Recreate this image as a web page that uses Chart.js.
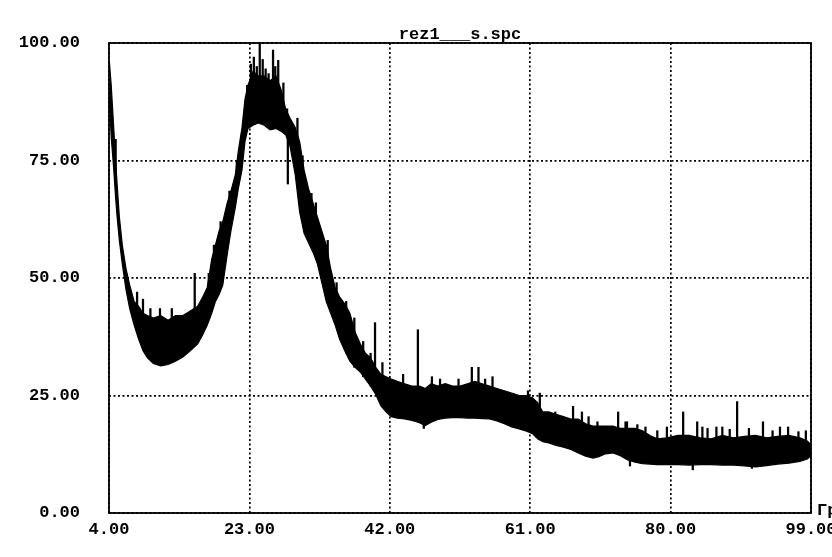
<!DOCTYPE html>
<html>
<head>
<meta charset="utf-8">
<script src="https://cdn.jsdelivr.net/npm/chart.js@4/dist/chart.umd.min.js"></script>
<style>
  html, body { margin: 0; padding: 0; background: #fff; }
  canvas { display: block; }
</style>
</head>
<body>
<canvas id="xrd" width="832" height="557"></canvas>
<script>
const angles = [4.05, 4.3, 4.6, 4.9, 5.1, 5.4, 5.8, 6.3, 6.8, 7.4, 8.0, 8.6, 9.2, 10.0, 11.0, 12.0, 13.0, 14.0, 15.0, 16.0,
  16.7, 17.3, 17.9, 18.4, 18.9, 19.4, 20.0, 20.5, 21.1, 21.5, 22.0, 22.4, 22.8, 23.5, 24.2, 25.0, 25.8, 26.6, 27.3, 27.9,
  28.5, 29.2, 29.8, 30.4, 31.0, 31.6, 32.2, 32.8, 33.4, 34.0, 34.6, 35.2, 35.9, 36.6, 37.3, 38.0, 38.7, 39.4, 40.1, 40.8,
  41.5, 42.2, 43.0, 44.0, 45.0, 46.0, 46.8, 47.6, 48.5, 49.5, 50.5, 51.5, 52.5, 53.5, 54.5, 55.5, 56.5, 57.5, 58.5, 59.5,
  60.5, 61.3, 62.0, 62.7, 63.5, 64.5, 65.5, 66.5, 67.5, 68.5, 69.5, 70.3, 71.2, 72.2, 73.2, 74.2, 75.2, 76.2, 77.2, 78.2,
  79.5, 81.0, 82.5, 84.0, 85.5, 87.0, 88.5, 90.0, 91.5, 93.0, 94.5, 96.0, 97.5, 98.5, 99.0];

// upper edge of the noisy band
const upperEdge = [96, 91, 83, 75, 70, 63, 57, 52, 48.5, 45, 44, 42.5, 42, 41.5, 42, 41, 42, 42, 43, 44,
  46, 48, 54, 57, 60, 62, 66, 68.5, 72, 77, 82, 88, 91, 94, 93, 93, 92, 93, 90, 86,
  84, 82, 79, 73, 69, 66, 63, 60, 57, 52, 48, 46, 44.5, 42.5, 38.5, 36, 34, 33, 31, 29.5,
  29, 28.5, 28, 27.5, 27, 27, 26.5, 27.5, 27, 27.5, 27, 27, 27.5, 28, 27.5, 27, 26.5, 26, 25.5, 25,
  25, 24.5, 23.5, 21.5, 21.5, 21, 20.5, 20, 20, 19, 18.5, 18.5, 18.5, 18.5, 18, 18, 18, 17.5, 16.5, 15.8,
  16, 16.5, 16.5, 16, 15.8, 16.5, 16, 16.3, 16.5, 16, 16.3, 16.5, 16, 15.3, 14.5];

// lower edge of the noisy band
const lowerEdge = [88, 80, 74, 67, 63, 58, 53, 47.5, 43.5, 40, 37, 34.5, 33, 31.8, 31.3, 31.6, 32.3, 33.2, 34.5, 36,
  38, 40, 42.5, 45, 46.5, 48.5, 55, 60, 65, 69, 73, 79, 81.8, 82.5, 83, 82.5, 81.5, 81.8, 81.2, 80.5,
  78, 72, 64, 59.5, 57.5, 55.5, 53, 49, 45, 42.5, 40, 37, 34.5, 32.3, 31, 30, 28.5, 27, 25.2, 22.8,
  21.5, 20.5, 20.2, 20, 19.7, 19.2, 18.6, 19.3, 19.9, 20.2, 20.3, 20.3, 20.2, 20.2, 20.1, 20, 19.6, 19, 18.3, 17.9,
  17.4, 16.9, 15.8, 15.2, 14.9, 14.4, 14, 13.5, 12.8, 12.1, 11.7, 12, 12.6, 12.8, 12.2, 11.3, 10.8, 10.5, 10.4, 10.3,
  10.3, 10.3, 10.2, 10.3, 10.3, 10.2, 10.2, 10, 9.8, 10.1, 10.4, 10.6, 11, 11.5, 12.2];

// single sharp spikes sticking out of the band
const spikeX = [4.9, 7.8, 8.6, 9.6, 10.9, 12.5, 15.6, 17.5, 18.2, 19.1, 20.3, 21.3,
  22.7, 23.2, 23.6, 24.0, 24.4, 24.8, 25.2, 25.6, 26.2, 26.5, 26.9, 27.6, 28.1, 28.2,
  29.5, 30.2, 31.4, 32.0, 33.6, 34.8, 36.1, 37.2, 38.4, 39.4, 40.0, 41.0,
  43.8, 45.8, 46.6, 47.7, 48.8, 51.3, 53.1, 54.0, 54.9, 55.9, 60.7, 62.3, 64.4, 66.8, 68.0,
  68.9, 70.1, 72.9, 73.9, 74.1, 74.5, 75.5, 76.6, 78.2, 79.5, 81.7, 83.0, 83.6, 84.3, 85.0, 86.2, 87.0,
  88.0, 89.0, 90.6, 91.0, 92.5, 93.8, 94.8, 95.9, 97.3, 98.3];
const spikeLow = [70, 42, 38, 38, 38, 38, 40, 44, 50, 55, 62, 68,
  85, 86, 86, 86, 86, 86, 86, 86, 86, 86, 86, 84, 82, 70,
  72, 62, 58, 55, 45, 40, 34, 31, 29, 27, 26, 23,
  22, 22, 18, 22, 22, 22, 22, 22, 22, 22, 20, 18, 16, 15, 14,
  13, 13, 14, 13, 13, 10, 12, 12, 12, 12, 12, 9.2, 12, 12, 12, 12, 12,
  12, 12, 12, 9.5, 12, 12, 12, 12, 12, 12];
const spikeHigh = [79.5, 47, 45.5, 43.5, 43.5, 43.5, 51, 51, 57, 62, 68.5, 75,
  91, 95.5, 97, 95, 100, 96.5, 94.5, 93.5, 98.5, 95, 96.3, 91.5, 86, 80,
  84, 76, 68, 66, 58, 49, 45, 41.5, 36.5, 34, 40.5, 32,
  29.5, 39, 20, 29, 28.5, 28.5, 31, 31, 28.5, 29, 26, 25.5, 21.5, 22.7, 21.5,
  20.5, 19.4, 21.5, 19.4, 19.4, 12, 18.8, 18.3, 17.5, 18.3, 21.5, 11, 19.4, 18.3, 18, 18.3, 18.3,
  17.8, 23.7, 18, 11, 19.4, 17.5, 18.3, 18.3, 17.3, 17.5];

const xTicks = [4, 23, 42, 61, 80, 99];
const yTicks = [0, 25, 50, 75, 100];
const title = 'rez1___s.spc';
const unitLabel = 'Гр';

Chart.defaults.font.family = "'Liberation Mono', 'DejaVu Sans Mono', monospace";
Chart.defaults.font.weight = 'bold';
Chart.defaults.font.size = 17;
Chart.defaults.color = '#000';

// solid frame round the plot + the cut-off unit label
const framePlugin = {
  id: 'frame',
  afterDatasetsDraw(chart) {
    const { ctx, chartArea: a } = chart;
    ctx.save();
    ctx.strokeStyle = '#000';
    ctx.lineWidth = 1.8;
    ctx.strokeRect(a.left, a.top, a.right - a.left, a.bottom - a.top);
    ctx.fillStyle = '#000';
    ctx.font = "bold 17px 'Liberation Mono', monospace";
    ctx.textBaseline = 'middle';
    ctx.textAlign = 'left';
    ctx.fillText(unitLabel, a.right + 6, a.bottom - 2);
    ctx.restore();
  }
};

const dotted = { display: false, dash: [2, 2.5] };

new Chart(document.getElementById('xrd'), {
  type: 'line',
  data: {
    datasets: [
      {
        label: 'upper',
        data: angles.map((x, i) => ({ x, y: upperEdge[i] })),
        borderColor: '#000',
        borderWidth: 1.2,
        pointRadius: 0,
        tension: 0,
        fill: false
      },
      {
        label: 'lower',
        data: angles.map((x, i) => ({ x, y: lowerEdge[i] })),
        borderColor: '#000',
        borderWidth: 1.2,
        pointRadius: 0,
        tension: 0,
        fill: '-1',
        backgroundColor: '#000'
      },
      {
        type: 'bar',
        label: 'spikes',
        data: spikeX.map((x, i) => ({ x, y: [spikeLow[i], spikeHigh[i]] })),
        backgroundColor: '#000',
        borderWidth: 0,
        barThickness: 1.6,
        grouped: false
      }
    ]
  },
  options: {
    responsive: false,
    animation: false,
    events: [],
    layout: { padding: { left: 0, right: 21, top: 0, bottom: 0 } },
    plugins: {
      legend: { display: false },
      tooltip: { enabled: false },
      title: {
        display: true,
        text: title,
        fullSize: false,
        font: { size: 17, weight: 'bold', lineHeight: 1 },
        padding: { top: 26, bottom: 0 }
      }
    },
    scales: {
      x: {
        type: 'linear',
        min: 4,
        max: 99,
        offset: false,
        afterBuildTicks(scale) { scale.ticks = xTicks.map(v => ({ value: v })); },
        afterFit(scale) { scale.height = 44; scale.paddingLeft = 0; scale.paddingRight = 0; },
        ticks: { padding: 7, maxRotation: 0, autoSkip: false, callback: v => Number(v).toFixed(2) },
        grid: { color: '#000', lineWidth: 1.7, drawTicks: false, offset: false },
        border: dotted
      },
      y: {
        min: 0,
        max: 100,
        afterBuildTicks(scale) { scale.ticks = yTicks.map(v => ({ value: v })); },
        afterFit(scale) { scale.width = 109; },
        ticks: { padding: 29, callback: v => Number(v).toFixed(2) },
        grid: { color: '#000', lineWidth: 1.7, drawTicks: false },
        border: dotted
      }
    }
  },
  plugins: [framePlugin]
});
</script>
</body>
</html>
